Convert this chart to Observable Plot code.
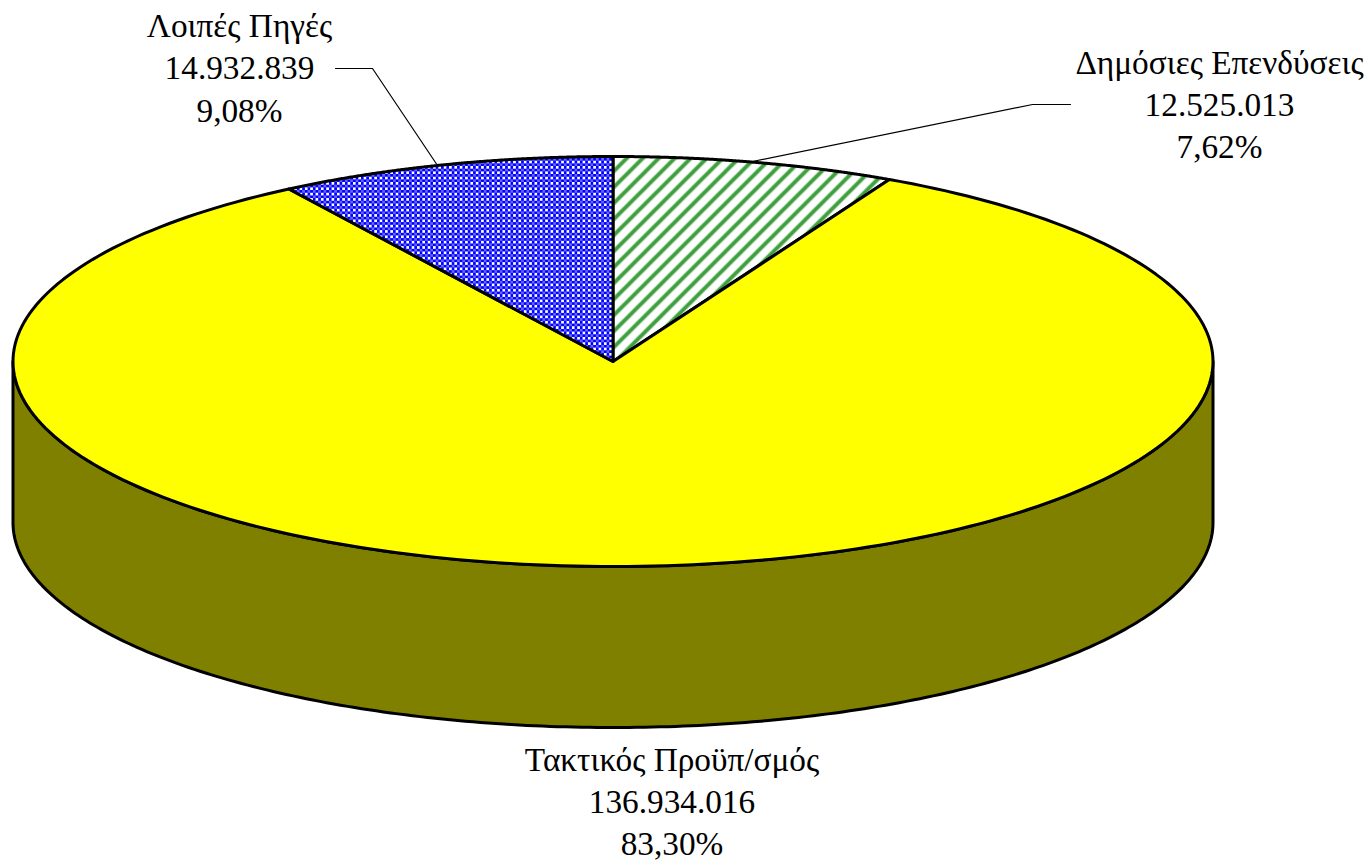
<!DOCTYPE html>
<html><head><meta charset="utf-8">
<script src="https://cdn.jsdelivr.net/npm/d3@7"></script>
<script src="https://cdn.jsdelivr.net/npm/@observablehq/plot@0.6"></script>
<style>html,body{margin:0;padding:0;background:#fff;overflow:hidden}</style>
</head><body><div id="chart"></div>
<script>
// Data, clockwise from 12 o'clock
const names = ["Δημόσιες Επενδύσεις", "Τακτικός Προϋπ/σμός", "Λοιπές Πηγές"];
const values = [12525013, 136934016, 14932839];
const valueLabels = ["12.525.013", "136.934.016", "14.932.839"];
const percentLabels = ["7,62%", "83,30%", "9,08%"];

// Layout
const W = 1368, H = 861;
const cx = 612.5, cy = 361, rx = 600, ry = 205, depth = 161;
const fills = ["url(#stripes)", "#ffff00", "url(#checks)"];
const labelAt = [[1219, 43], [671.5, 740], [239, 6.5]];
const leaders = [
  {key: 0, pts: [[752, 161], [1032, 104], [1070, 104]]},
  {key: 2, pts: [[437, 165], [372, 68], [335, 68]]}
];

const total = d3.sum(values);
const ends = d3.cumsum(values).map(v => v / total * 2 * Math.PI);
const rim = a => [cx + rx * Math.sin(a), cy - ry * Math.cos(a)];
const arc = (a0, a1, n = 240) => d3.range(n + 1).map(i => rim(a0 + (a1 - a0) * i / n));

const slices = values.map((v, i) => {
  const a0 = i ? ends[i - 1] : 0, a1 = ends[i];
  return [[cx, cy], ...arc(a0, a1), [cx, cy]].map(p => ({x: p[0], y: p[1]}));
});
const front = arc(Math.PI / 2, 3 * Math.PI / 2);
const wall = [
  ...front.map(p => ({x: p[0], y: p[1] + depth})),
  ...front.slice().reverse().map(p => ({x: p[0], y: p[1]})),
];
wall.push(wall[0]);

const labels = names.map((n, i) => ({
  text: `${n}\n${valueLabels[i]}\n${percentLabels[i]}`, x: labelAt[i][0], y: labelAt[i][1]
}));

const poly = (pts, fill) => Plot.line(pts, {
  x: "x", y: "y", fill, stroke: "#000", strokeWidth: 3, curve: "linear",
  strokeLinejoin: "round", strokeLinecap: "round"
});

const plot = Plot.plot({
  width: W, height: H, margin: 0,
  x: {domain: [0, W], range: [0, W], axis: null},
  y: {domain: [0, H], range: [0, H], axis: null},
  marks: [
    poly(wall, "#808000"),
    ...slices.map((s, i) => poly(s, fills[i])),
    ...leaders.map(l => Plot.line(l.pts.map(p => ({x: p[0], y: p[1]})), {
      x: "x", y: "y", stroke: "#000", strokeWidth: 1.2, curve: "linear"
    })),
    Plot.text(labels, {
      x: "x", y: "y", text: "text", lineAnchor: "top", textAnchor: "middle",
      fontFamily: "Liberation Serif", fontSize: 33.3, lineHeight: 1.27, fill: "#000"
    })
  ]
});

// Hatch patterns for the two patterned slices
const ns = "http://www.w3.org/2000/svg";
const defs = document.createElementNS(ns, "defs");
defs.innerHTML = `
<pattern id="checks" patternUnits="userSpaceOnUse" width="5.34" height="5.34">
  <rect width="5.34" height="5.34" fill="#0000ff"/>
  <rect x="0" y="0" width="2.67" height="2.67" fill="#fff"/>
  <rect x="2.67" y="2.67" width="2.67" height="2.67" fill="#6666ff"/>
</pattern>
<pattern id="stripes" patternUnits="userSpaceOnUse" width="16" height="16">
  <rect width="16" height="16" fill="#fff"/>
  <path d="M-4,4 L4,-4 M0,16 L16,0 M12,20 L20,12" stroke="#3da03d" stroke-width="4"/>
</pattern>`;
plot.prepend(defs);
document.getElementById("chart").append(plot);
</script></body></html>
